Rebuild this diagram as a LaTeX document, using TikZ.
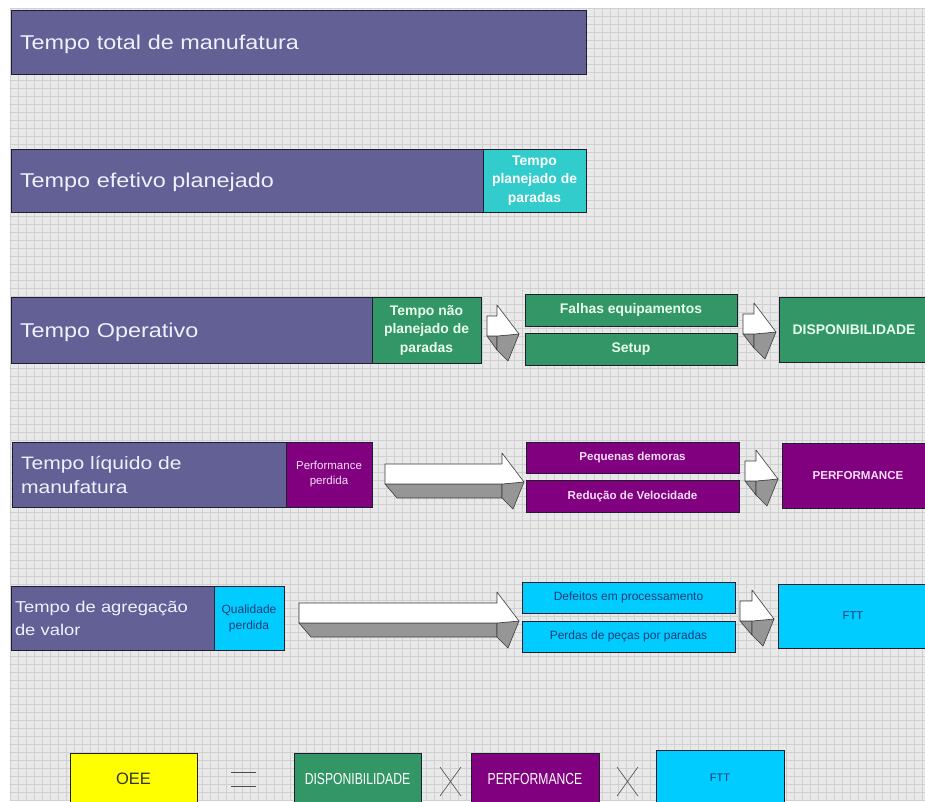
\documentclass[tikz,border=0pt]{standalone}
\usepackage{fontspec}
\setmainfont{Liberation Sans}
\newfontfamily\widef[FakeStretch=1.17]{Liberation Sans}
\newfontfamily\narrowf[FakeStretch=0.76]{Liberation Sans}

\definecolor{barblue}{RGB}{99,96,150}
\definecolor{tealc}{RGB}{51,204,204}
\definecolor{greenc}{RGB}{51,150,102}
\definecolor{purplec}{RGB}{128,0,128}
\definecolor{cyanc}{RGB}{0,204,255}
\definecolor{yellowc}{RGB}{255,255,0}
\definecolor{gridbg}{RGB}{233,233,233}
\definecolor{gridln}{RGB}{208,208,208}
\definecolor{edge}{RGB}{30,30,45}
\definecolor{lighttext}{RGB}{240,240,255}
\definecolor{greentext}{RGB}{232,255,238}
\definecolor{pinktext}{RGB}{250,222,250}
\definecolor{navytext}{RGB}{25,60,120}
\definecolor{arrgray}{RGB}{150,150,150}
\definecolor{arredge}{RGB}{60,60,60}

\tikzset{
  box/.style={draw=edge, line width=0.9pt, anchor=north west, outer sep=0pt,
              inner sep=0pt, align=center},
  bar/.style={box, fill=barblue, text=lighttext, align=left, inner xsep=9pt,
              font=\widef\fontsize{20}{24}\selectfont},
  onebar/.style={bar, text depth=0pt},
  greenbox/.style={box, fill=greenc, text=greentext},
  purplebox/.style={box, fill=purplec, text=pinktext},
  cyanbox/.style={box, fill=cyanc, text=navytext},
  boldmid/.style={font=\bfseries\fontsize{13.9}{18.5}\selectfont},
  boldsmall/.style={font=\bfseries\fontsize{11.6}{14}\selectfont},
  plainsmall/.style={font=\fontsize{12}{16}\selectfont},
  arrfront/.style={fill=white, draw=arredge, line width=0.6pt, line join=round},
  arrside/.style={fill=arrgray, draw=arredge, line width=0.6pt, line join=round},
  opline/.style={draw=black!70, line width=0.6pt},
}

% 3-D block arrow: #1 tail x, #2 x where the head starts, #3 y of the head top
\newcommand\blockarrow[3]{%
  \path[arrside] (#1,#3+31) -- (#2,#3+31) -- (#2,#3+45) -- ({min(#1+12,#2)},#3+45) -- cycle;
  \path[arrside] (#2,#3+31) -- (#2+22,#3+29) -- (#2+11,#3+56) -- (#2,#3+45) -- cycle;
  \path[arrfront] (#1,#3+11) -- (#2,#3+11) -- (#2,#3) -- (#2+22,#3+29) -- (#2,#3+31) -- (#1,#3+31) -- cycle;
}

\begin{document}
\begin{tikzpicture}[x=1pt, y=-1pt]
\useasboundingbox (0,0) rectangle (925,801);
\clip (0,0) rectangle (925,801);

% sheet background with cell grid
\fill[white] (0,0) rectangle (925,801);
\fill[gridbg] (10,8) rectangle (925,801);
\foreach \gx in {10,18,...,925} \draw[gridln, line width=0.5pt] (\gx,8) -- (\gx,801);
\foreach \gy in {8,16,...,801} \draw[gridln, line width=0.5pt] (10,\gy) -- (925,\gy);

% row 1
\node[onebar, minimum width=575, minimum height=64, text width=557] (total) at (11,10) {Tempo total de manufatura};

% row 2
\node[onebar, minimum width=472, minimum height=63, text width=454] (efetivo) at (11,149) {Tempo efetivo planejado};
\node[box, fill=tealc, text=white, boldmid, minimum width=103, minimum height=63] (planparadas) at (483,149) {Tempo\\planejado de\\paradas};

% row 3
\node[onebar, minimum width=361, minimum height=66, text width=343] (operativo) at (11,297) {Tempo Operativo};
\node[greenbox, boldmid, minimum width=109, minimum height=66] (naoplan) at (372,297) {Tempo não\\planejado de\\paradas};
\node[greenbox, boldmid, minimum width=212, minimum height=32] (falhas) at (525,294) {Falhas equipamentos};
\node[greenbox, boldmid, minimum width=212, minimum height=32] (setup) at (525,333) {Setup};
\node[greenbox, boldmid, minimum width=150, minimum height=65] (disp) at (779,297) {DISPONIBILIDADE};
\blockarrow{487}{497}{305}
\blockarrow{743}{754}{303}

% row 4
\node[bar, font=\widef\fontsize{18}{24}\selectfont, minimum width=274, minimum height=65, text width=256] (liquido) at (12,442) {Tempo líquido de\\manufatura};
\node[purplebox, font=\fontsize{11.5}{15}\selectfont, minimum width=86, minimum height=65] (perfperd) at (286,442) {Performance\\perdida};
\node[purplebox, boldsmall, minimum width=213, minimum height=31] (pequenas) at (526,442) {Pequenas demoras};
\node[purplebox, boldsmall, minimum width=213, minimum height=32] (reducao) at (526,480) {Redução de Velocidade};
\node[purplebox, boldsmall, minimum width=152, minimum height=65] (perf) at (782,443) {PERFORMANCE};
\blockarrow{385}{502}{453}
\blockarrow{745}{756}{450}

% row 5
\node[bar, font=\widef\fontsize{15.7}{23}\selectfont, inner xsep=4pt, minimum width=203, minimum height=64, text width=195] (agregacao) at (11,586) {Tempo de agregação\\de valor};
\node[cyanbox, font=\fontsize{12}{16}\selectfont, minimum width=70, minimum height=64] (qualperd) at (214,586) {Qualidade\\perdida};
\node[cyanbox, plainsmall, minimum width=213, minimum height=31] (defeitos) at (522,582) {Defeitos em processamento};
\node[cyanbox, plainsmall, minimum width=213, minimum height=31] (perdas) at (522,621) {Perdas de peças por paradas};
\node[cyanbox, font=\fontsize{11.3}{14}\selectfont, minimum width=150, minimum height=64] (ftt) at (778,584) {FTT};
\blockarrow{299}{497}{592}
\blockarrow{740}{752}{590}

% OEE = DISPONIBILIDADE x PERFORMANCE x FTT
\node[box, fill=yellowc, text=black!80, font=\fontsize{16.5}{20}\selectfont, minimum width=127, minimum height=52] (oee) at (70,753) {OEE};
\node[greenbox, text=white, font=\narrowf\fontsize{16}{20}\selectfont, minimum width=127, minimum height=52] (dispb) at (294,753) {DISPONIBILIDADE};
\node[purplebox, text=white, font=\narrowf\fontsize{16}{20}\selectfont, minimum width=128, minimum height=52] (perfb) at (471,753) {PERFORMANCE};
\node[cyanbox, font=\fontsize{11}{14}\selectfont, minimum width=128, minimum height=56] (fttb) at (656,750) {FTT};

\coordinate (eqa) at (231,772);
\coordinate (eqb) at (256,772);
\coordinate (eqc) at (231,786);
\coordinate (eqd) at (256,786);
\draw[opline] (eqa) -- (eqb) (eqc) -- (eqd);

\coordinate (xa1) at (440,767);
\coordinate (xa2) at (461,796);
\coordinate (xa3) at (461,767);
\coordinate (xa4) at (440,796);
\draw[opline] (xa1) -- (xa2) (xa3) -- (xa4);

\coordinate (xb1) at (617,767);
\coordinate (xb2) at (638,796);
\coordinate (xb3) at (638,767);
\coordinate (xb4) at (617,796);
\draw[opline] (xb1) -- (xb2) (xb3) -- (xb4);
\end{tikzpicture}
\end{document}
